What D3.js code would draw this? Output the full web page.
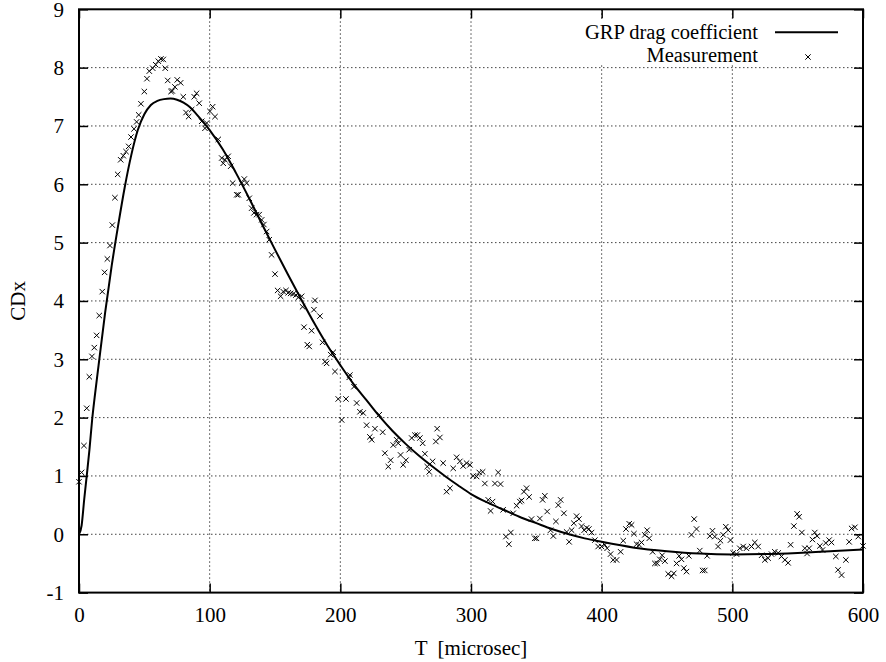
<!DOCTYPE html>
<html>
<head>
<meta charset="utf-8">
<script src="https://cdn.jsdelivr.net/npm/d3@7"></script>
<style>
  html, body { margin: 0; padding: 0; background: #fff; }
  svg { display: block; }
  svg text { font-family: "Liberation Serif", "Times New Roman", serif !important; fill: #000; }
</style>
</head>
<body>
<svg id="chart" width="886" height="662"></svg>
<script>
// ---- data ----
const xTicks = [0, 100, 200, 300, 400, 500, 600];
const yTicks = [-1, 0, 1, 2, 3, 4, 5, 6, 7, 8, 9];
const xLabel = "T  [microsec]";
const yLabel = "CDx";
const legendLabels = ["GRP drag coefficient", "Measurement"];

// GRP drag coefficient curve
const curveT  = [0, 2, 4, 6, 8, 10, 12, 15, 20, 25, 30, 35, 40, 45, 50, 55, 60, 65, 70, 75, 80, 85, 90, 95, 100,
                 110, 120, 130, 140, 150, 160, 170, 180, 190, 200, 210, 220, 230, 240, 250, 260, 270, 280, 290, 300,
                 312, 325, 337, 350, 362, 375, 387, 400, 425, 450, 475, 500, 525, 550, 575, 600];
const curveCD = [0, 0.15, 0.6, 1.02, 1.45, 1.95, 2.35, 2.9, 3.8, 4.6, 5.3, 5.95, 6.5, 6.93, 7.2, 7.36, 7.43, 7.46, 7.47, 7.45, 7.4, 7.32, 7.2, 7.07, 6.93,
                 6.6, 6.2, 5.77, 5.32, 4.88, 4.45, 4.03, 3.62, 3.24, 2.9, 2.58, 2.3, 2.02, 1.77, 1.55, 1.35, 1.17, 1.0, 0.84, 0.69,
                 0.55, 0.42, 0.3, 0.19, 0.09, 0.0, -0.07, -0.13, -0.23, -0.29, -0.33, -0.345, -0.34, -0.32, -0.29, -0.26];

// Measurement points
const measT = [0, 2, 3.8, 5.9, 7.9, 9.9, 11.7, 13.5, 15.5, 17.8, 19.6, 21.7, 23.7, 25.5, 27.5, 29.6, 31.9, 33.9, 36, 38,
  39.8, 42.1, 44.1, 45.7, 47.4, 50, 52, 53.8, 56.4, 58.7, 60.7, 62.7, 64.5, 66, 67.9, 70.4, 71.4, 73.4, 75.2, 77.8,
  79.8, 81.9, 83.9, 86.2, 88.2, 90, 92, 93.9, 96.4, 97.7, 100.2, 102.3, 104.1, 106.6, 109.2, 110.4, 111.7, 114.2, 116.1, 117.6,
  120.7, 121.9, 124.5, 126.5, 128.3, 130.3, 132.1, 133.9, 135.9, 137.9, 139.8, 141.5, 143.6, 145.6, 147.4, 150, 152, 154.3, 156.3, 158.4,
  160.1, 162, 164, 166, 167.8, 170.4, 171.1, 172.2, 174.7, 176.2, 178, 179.8, 180.6, 184.4, 186.4, 188.2, 189.5, 192.6, 194.6, 195.9,
  198.4, 201, 204.3, 206.8, 207.3, 210.4, 212.5, 215, 217.5, 220.1, 222.6, 224, 226.5, 229.8, 232.4, 234.1, 236.7, 238.5, 240.5, 243.1,
  244.3, 246.1, 248.1, 250.2, 252.7, 254.6, 257.1, 258.9, 260.9, 263, 264.7, 266.5, 268, 270.6, 273.1, 274.1, 276.2, 278.7, 281.3, 283.9,
  286.4, 289, 291.5, 294, 296.6, 299.2, 301.7, 304.3, 306.3, 308.9, 310.6, 313.2, 315, 316.5, 318.3, 320.8, 322.6, 324.6, 326.7, 329,
  330.5, 332.3, 334.9, 337.4, 338.7, 340.5, 342.5, 344.5, 346.3, 348.8, 350.1, 352.7, 354.8, 356.5, 358.3, 360.9, 363, 365, 366.8, 368.6,
  371.1, 373.2, 375.1, 377, 378.7, 380.8, 382.6, 384.6, 386.6, 388.5, 390.2, 392.3, 394.8, 397.3, 399.9, 402.4, 404.2, 406.8, 408.8, 411.4,
  414.5, 416.5, 418.6, 421.1, 422.9, 424.7, 426.7, 428.7, 430.5, 433, 434.8, 436.4, 439, 440.7, 442.5, 444.5, 446.3, 448.4, 450.9, 453.5,
  455.2, 457.3, 459.3, 461.1, 462.9, 464.9, 466.7, 468.7, 470.8, 472.6, 475.1, 477.2, 478.9, 480.7, 482.8, 484.8, 486.6, 489.1, 490.9, 493,
  495, 496.8, 498.6, 500.6, 503.2, 505.7, 508.3, 510.8, 514.7, 517.2, 519.8, 522.4, 524.9, 527.4, 530, 532.5, 535.1, 537.6, 540.2, 542.7,
  544.6, 547.1, 549.6, 551.1, 553.2, 555.5, 557.2, 558.8, 561.3, 563.1, 564.9, 567, 569, 571.5, 574.1, 575.9, 579.2, 580.9, 583.6, 586.9,
  589.4, 591.3, 593.8, 596.4, 600];
const measCD = [0.9, 1.06, 1.52, 2.16, 2.7, 3.05, 3.2, 3.41, 3.75, 4.16, 4.49, 4.72, 4.95, 5.3, 5.77, 6.17, 6.42, 6.49, 6.56, 6.65,
  6.81, 6.95, 7.07, 7.19, 7.38, 7.59, 7.81, 7.94, 7.99, 8.05, 8.11, 8.15, 8.14, 7.99, 7.78, 7.59, 7.6, 7.67, 7.79, 7.74,
  7.5, 7.23, 7.16, 7.28, 7.5, 7.56, 7.39, 7.08, 6.96, 7.05, 7.25, 7.33, 7.16, 6.77, 6.45, 6.36, 6.42, 6.48, 6.31, 6.02,
  5.82, 5.82, 6.02, 6.09, 6.02, 5.76, 5.59, 5.51, 5.48, 5.48, 5.39, 5.31, 5.19, 5.05, 4.79, 4.46, 4.18, 4.08, 4.16, 4.18,
  4.14, 4.13, 4.12, 4.1, 4.06, 4.08, 3.9, 3.55, 3.25, 3.22, 3.49, 3.85, 4.01, 3.74, 3.29, 2.96, 2.93, 3.08, 3.12, 2.79,
  2.32, 1.96, 2.32, 2.69, 2.73, 2.53, 2.25, 2.1, 2.08, 1.87, 1.67, 1.62, 1.81, 2.05, 1.75, 1.39, 1.16, 1.27, 1.53, 1.62,
  1.56, 1.36, 1.19, 1.27, 1.45, 1.65, 1.7, 1.7, 1.65, 1.56, 1.38, 1.16, 1.07, 1.25, 1.59, 1.81, 1.66, 1.22, 0.73, 0.79,
  1.13, 1.32, 1.25, 1.17, 1.22, 1.19, 1.0, 0.99, 1.06, 1.07, 0.87, 0.59, 0.4, 0.56, 0.87, 1.06, 0.86, 0.42, -0.04, -0.17,
  0.03, 0.36, 0.49, 0.56, 0.58, 0.73, 0.79, 0.64, 0.26, -0.07, -0.07, 0.27, 0.59, 0.66, 0.39, 0.07, -0.03, 0.22, 0.5, 0.59,
  0.36, 0.04, -0.13, 0.07, 0.19, 0.31, 0.26, 0.14, 0.07, 0.11, 0.09, 0.03, -0.1, -0.21, -0.21, -0.18, -0.24, -0.34, -0.44, -0.44,
  -0.3, -0.11, 0.09, 0.18, 0.16, 0.01, -0.17, -0.18, -0.14, -0.01, 0.07, -0.07, -0.3, -0.5, -0.5, -0.43, -0.36, -0.46, -0.68, -0.72,
  -0.67, -0.5, -0.37, -0.43, -0.58, -0.64, -0.37, -0.01, 0.26, 0.09, -0.28, -0.62, -0.62, -0.37, -0.03, 0.06, -0.04, -0.21, -0.11, -0.01,
  0.13, 0.07, -0.1, -0.32, -0.34, -0.24, -0.21, -0.24, -0.21, -0.14, -0.21, -0.36, -0.44, -0.41, -0.34, -0.3, -0.32, -0.38, -0.44, -0.49,
  -0.18, 0.14, 0.35, 0.3, 0.03, -0.24, -0.33, -0.24, -0.09, 0.03, -0.03, -0.2, -0.27, -0.15, -0.1, -0.14, -0.38, -0.61, -0.7, -0.44,
  -0.13, 0.1, 0.12, -0.04, -0.2];

// ---- drawing ----
const FONT = '"Liberation Serif", "Times New Roman", serif';
const svg = d3.select("#chart");
const L = 79, R = 863, T = 9.3, B = 592.6;
const x = d3.scaleLinear().domain([0, 600]).range([L, R]);
const y = d3.scaleLinear().domain([-1, 9]).range([B, T]);

// grid
const grid = svg.append("g").attr("stroke", "#444").attr("stroke-width", 1).attr("stroke-dasharray", "1.5,2.5");
grid.selectAll("line.gx").data(xTicks.slice(1, -1)).enter().append("line")
  .attr("x1", d => x(d)).attr("x2", d => x(d)).attr("y1", T).attr("y2", B);
grid.selectAll("line.gy").data(yTicks.slice(1, -1)).enter().append("line")
  .attr("x1", L).attr("x2", R).attr("y1", d => y(d)).attr("y2", d => y(d));

// legend background (opaque key)
svg.append("rect").attr("x", 568).attr("y", 20).attr("width", R - 568 - 1).attr("height", 44).attr("fill", "#fff");

// axes
function styleAxis(g) {
  g.attr("font-family", null).attr("font-size", null);
  g.select(".domain").remove();
  g.selectAll(".tick line").attr("stroke", "#000").attr("stroke-width", 1.5);
  g.selectAll(".tick text").style("font-family", FONT).style("font-size", "21px");
}
const fmt = d => String(d);
svg.append("g").attr("transform", `translate(0,${B})`)
  .call(d3.axisBottom(x).tickValues(xTicks).tickSize(-9).tickPadding(14.5).tickFormat(fmt))
  .call(styleAxis);
svg.append("g").attr("transform", `translate(0,${T})`)
  .call(d3.axisTop(x).tickValues(xTicks).tickSize(-9).tickFormat(""))
  .call(styleAxis);
svg.append("g").attr("transform", `translate(${L},0)`)
  .call(d3.axisLeft(y).tickValues(yTicks).tickSize(-9).tickPadding(15).tickFormat(fmt))
  .call(styleAxis);
svg.append("g").attr("transform", `translate(${R},0)`)
  .call(d3.axisRight(y).tickValues(yTicks).tickSize(-9).tickFormat(""))
  .call(styleAxis);

// frame
svg.append("rect").attr("x", L).attr("y", T).attr("width", R - L).attr("height", B - T)
  .attr("fill", "none").attr("stroke", "#000").attr("stroke-width", 2);

// curve
const line = d3.line().x(d => x(d[0])).y(d => y(d[1])).curve(d3.curveMonotoneX);
svg.append("path").datum(curveT.map((t, i) => [t, curveCD[i]]))
  .attr("d", line).attr("fill", "none").attr("stroke", "#000").attr("stroke-width", 2);

// measurement markers
const cross = "M-2.7,-2.7L2.7,2.7M-2.7,2.7L2.7,-2.7";
svg.append("g").selectAll("path").data(measT.map((t, i) => [t, measCD[i]])).enter().append("path")
  .attr("transform", d => `translate(${x(d[0])},${y(d[1])})`)
  .attr("d", cross).attr("stroke", "#000").attr("stroke-width", 1).attr("fill", "none");

// legend
svg.append("text").attr("x", 758).attr("y", 39).attr("text-anchor", "end").style("font-size", "20.5px").text(legendLabels[0]);
svg.append("line").attr("x1", 775).attr("x2", 838).attr("y1", 32.3).attr("y2", 32.3).attr("stroke", "#000").attr("stroke-width", 2);
svg.append("text").attr("x", 758).attr("y", 61.5).attr("text-anchor", "end").style("font-size", "20.5px").text(legendLabels[1]);
svg.append("path").attr("transform", "translate(808,57)").attr("d", cross).attr("stroke", "#000").attr("stroke-width", 1);

// axis titles
svg.append("text").attr("x", (L + R) / 2).attr("y", 655).attr("text-anchor", "middle").style("font-size", "21px")
  .style("white-space", "pre").text(xLabel);
svg.append("text").attr("transform", `translate(25,${(T + B) / 2}) rotate(-90)`).attr("text-anchor", "middle")
  .style("font-size", "21px").text(yLabel);
</script>
</body>
</html>
